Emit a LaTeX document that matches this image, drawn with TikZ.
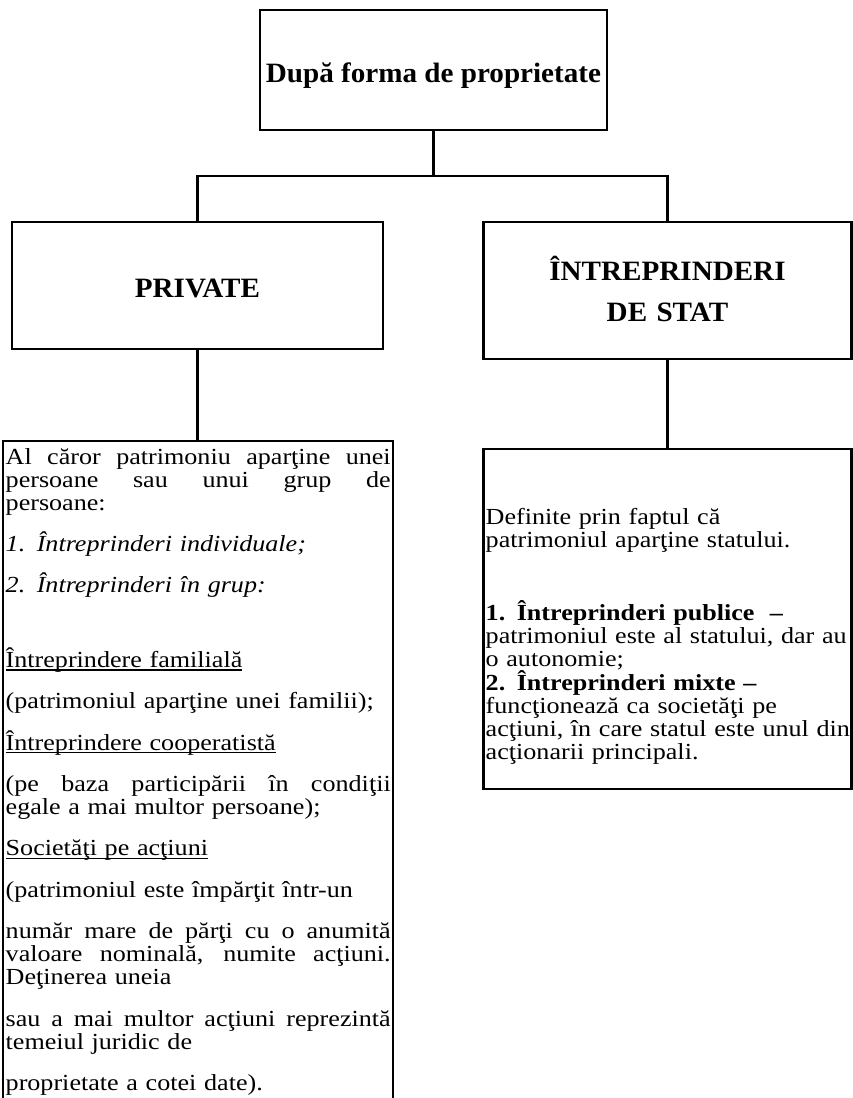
\documentclass[tikz,border=0pt]{standalone}
\usepackage{fontspec}
\setmainfont{Liberation Serif}[FakeStretch=1.135]
\newfontfamily\headfont{Liberation Serif}[FakeStretch=1.04]
\newcommand{\J}[1]{\leavevmode\makebox[\linewidth][s]{\spaceskip=\fontdimen2\font plus 1fil\relax #1}}
\newcommand{\undl}[1]{\leavevmode\setbox0=\hbox{#1}\rlap{\rule[-3.2pt]{\wd0}{1.3pt}}\box0}
\hbadness=10000
\hfuzz=20pt
\lineskiplimit=-60pt
\begin{document}
\begin{tikzpicture}[x=1pt,y=-1pt,
  boxe/.style={draw=black, line width=2.2pt, inner sep=0pt, rectangle},
  conn/.style={draw=black, line width=2.2pt},
  headtext/.style={inner sep=0pt, font=\headfont\fontsize{28}{41}\selectfont\bfseries},
  bodytext/.style={inner sep=0pt, font=\fontsize{23}{23}\selectfont}]
\useasboundingbox (0,0) rectangle (853,1098);
\fill[white] (0,0) rectangle (853,1098);
\clip (0,0) rectangle (853,1098);

% boxes
\node[boxe, minimum width=347pt, minimum height=120pt] (top) at (433.5,70) {};
\node[boxe, minimum width=371pt, minimum height=127pt] (priv) at (197.5,285.5) {};
\node[boxe, minimum width=368pt, minimum height=137pt] (stat) at (667.5,290.5) {};
\node[boxe, minimum width=390pt, minimum height=720pt, anchor=north] (ltbox) at (198,440) {};
\node[boxe, minimum width=368pt, minimum height=340pt] (rtbox) at (667.5,619) {};

% headings
\node[headtext, anchor=base] (toptx) at (433.5,82) {După forma de proprietate};
\node[headtext, anchor=base] (privtx) at (197.5,297) {PRIVATE};
\node[headtext, anchor=base, text width=300pt, align=center] (stattx) at (667.5,280) {ÎNTREPRINDERI\\DE STAT};

% connectors
\coordinate (fork) at (433.5,176);
\draw[conn] (top.south) -- (fork);
\draw[conn] (priv.north) |- (fork) -| (stat.north);
\draw[conn] (priv.south) -- (priv.south |- ltbox.north);
\draw[conn] (stat.south) -- (stat.south |- rtbox.north);

% left text
\node[bodytext, text width=385pt, anchor=base west] (lttx) at (5.5,464) {%
\lineskiplimit=-60pt\relax
\J{Al căror patrimoniu aparţine unei}\\
\J{persoane sau unui grup de}\\
persoane:\\[18.4pt]
\textit{1. Întreprinderi individuale;}\\[18.4pt]
\textit{2. Întreprinderi în grup:}\\[51.5pt]
\undl{Întreprindere familială}\\[18.4pt]
(patrimoniul aparţine unei familii);\\[18.4pt]
\undl{Întreprindere cooperatistă}\\[18.4pt]
\J{(pe baza participării în condiţii}\\
egale a mai multor persoane);\\[18.4pt]
\undl{Societăţi pe acţiuni}\\[18.4pt]
(patrimoniul este împărţit într-un\\[18.4pt]
\J{număr mare de părţi cu o anumită}\\
\J{valoare nominală, numite acţiuni.}\\
Deţinerea uneia\\[18.4pt]
\J{sau a mai multor acţiuni reprezintă}\\
temeiul juridic de\\[18.4pt]
proprietate a cotei date).};

% right text
\node[bodytext, text width=380pt, align=left, anchor=base west] (rttx) at (485.5,524) {%
\lineskiplimit=-60pt\relax
Definite prin faptul că\\
patrimoniul aparţine statului.\\[50pt]
\textbf{1. Întreprinderi publice~ –}\\
patrimoniul este al statului, dar au\\
o autonomie;\\[1pt]
\textbf{2. Întreprinderi mixte –}\\
funcţionează ca societăţi pe\\
acţiuni, în care statul este unul din\\
acţionarii principali.};
\end{tikzpicture}
\end{document}
